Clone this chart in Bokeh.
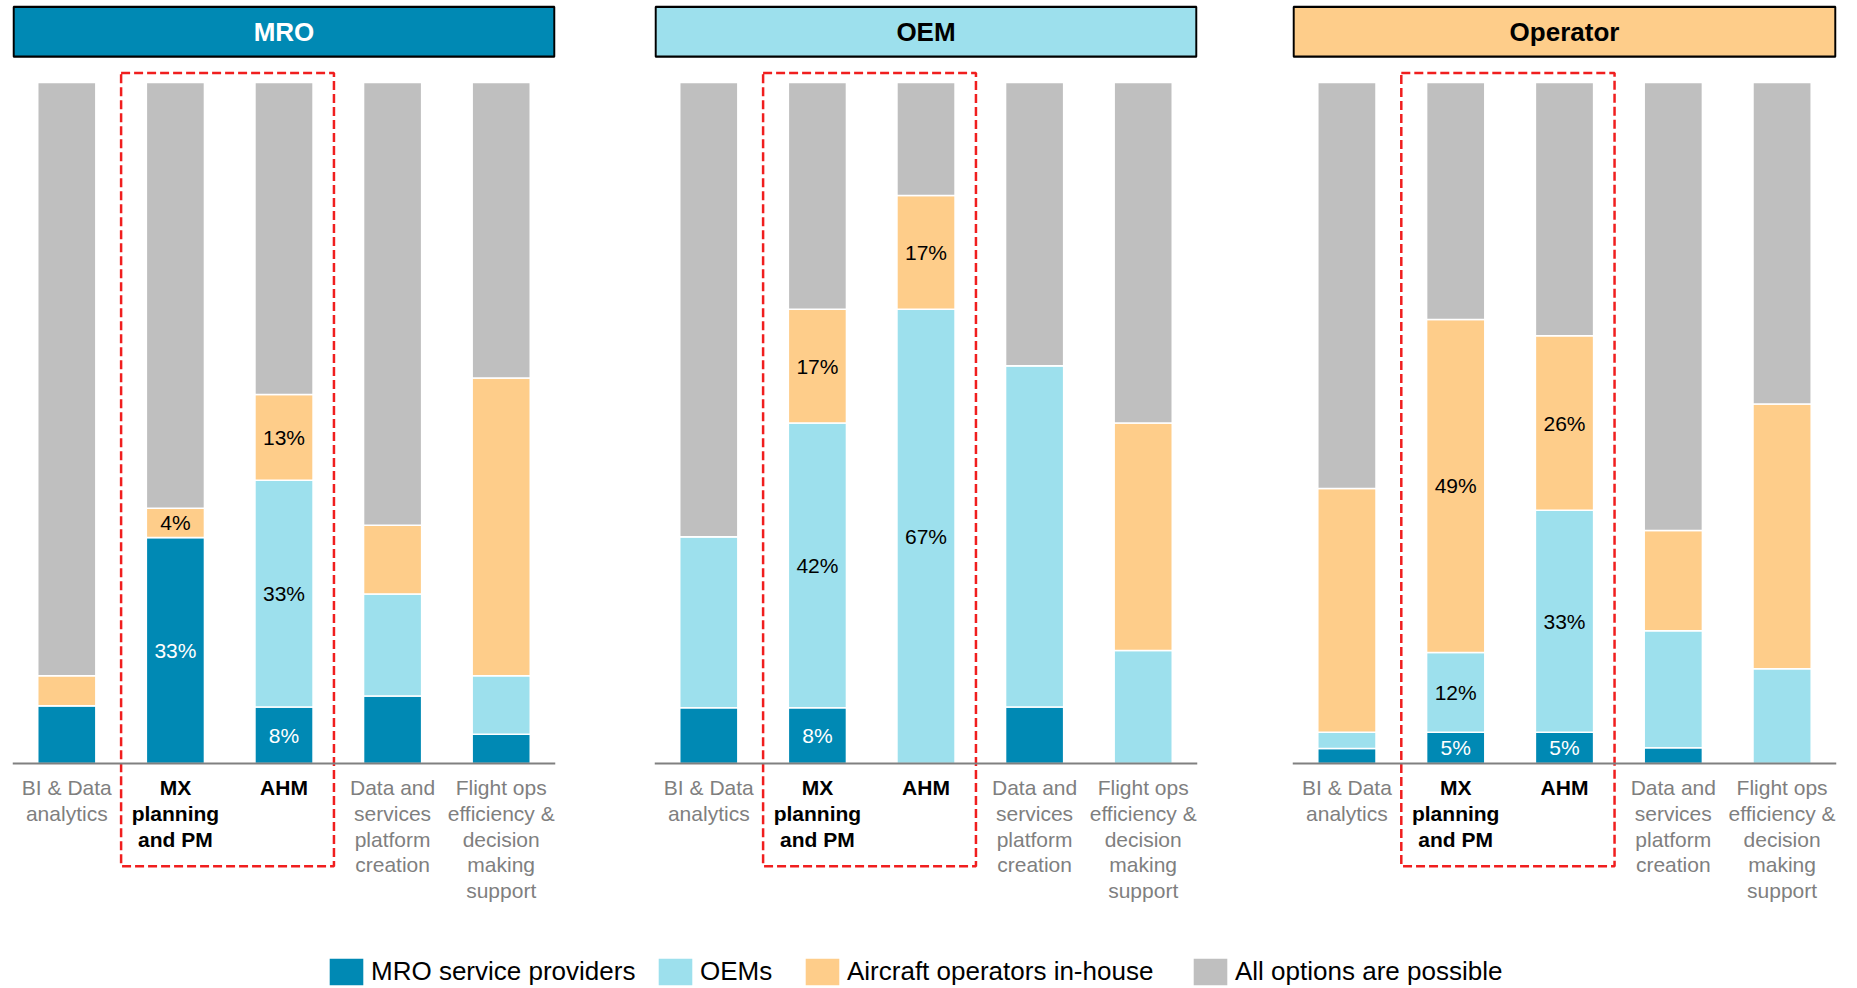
from bokeh.plotting import figure
from bokeh.models import ColumnDataSource, Span, Legend, LegendItem, Range1d, FactorRange
from bokeh.layouts import row, column
from bokeh.embed import file_html
from bokeh.resources import INLINE
from bokeh.core.properties import value

# ---------------- data ----------------
cat_keys = ["BI", "MX", "AHM", "DATA", "FLIGHT"]
cat_labels = ["BI & Data\nanalytics", "MX\nplanning\nand PM", "AHM",
              "Data and\nservices\nplatform\ncreation",
              "Flight ops\nefficiency &\ndecision\nmaking\nsupport"]
highlighted = ["MX", "AHM"]

series = ["MRO service providers", "OEMs", "Aircraft operators in-house", "All options are possible"]
series_colors = ["#0089B4", "#9DE0ED", "#FECD8A", "#BFBFBF"]

panels = ["MRO", "OEM", "Operator"]
panel_fill = ["#0089B4", "#9DE0ED", "#FECD8A"]
panel_text = ["white", "black", "black"]

# MRO panel (% of respondents)
mro_mro = [8.5, 33.2, 8.3, 9.9, 4.3]
mro_oem = [0.0, 0.0, 33.3, 15.0, 8.6]
mro_ops = [4.4, 4.3, 12.6, 10.1, 43.7]
mro_all = [87.1, 62.5, 45.8, 65.0, 43.4]

# OEM panel
oem_mro = [8.2, 8.2, 0.0, 8.3, 0.0]
oem_oem = [25.1, 41.8, 66.7, 50.1, 16.6]
oem_ops = [0.0, 16.7, 16.7, 0.0, 33.4]
oem_all = [66.7, 33.3, 16.6, 41.6, 50.0]

# Operator panel
op_mro = [2.2, 4.6, 4.6, 2.3, 0.0]
op_oem = [2.4, 11.7, 32.6, 17.2, 13.9]
op_ops = [35.8, 48.9, 25.6, 14.7, 38.9]
op_all = [59.6, 34.8, 37.2, 65.8, 47.2]

panel_values = [
    [mro_mro, mro_oem, mro_ops, mro_all],
    [oem_mro, oem_oem, oem_ops, oem_all],
    [op_mro, op_oem, op_ops, op_all],
]

# ---------------- layout constants ----------------
FONT = "Liberation Sans"
Y_MIN, Y_MAX = -24.52, 112.04
FRAME_H = 930
stack_keys = ["s0", "s1", "s2", "s3"]


def make_panel(idx, frame_w, left_b, right_b):
    name = panels[idx]
    vals = panel_values[idx]
    p = figure(x_range=FactorRange(*cat_keys, range_padding=0, factor_padding=0),
               y_range=Range1d(Y_MIN, Y_MAX),
               frame_width=frame_w, frame_height=FRAME_H,
               min_border_left=left_b, min_border_right=right_b,
               min_border_top=0, min_border_bottom=0,
               output_backend="svg", toolbar_location=None,
               x_axis_location=None, y_axis_location=None)
    p.outline_line_color = None
    p.xgrid.visible = False
    p.ygrid.visible = False

    data = {"cat": cat_keys}
    for k, v in zip(stack_keys, vals):
        data[k] = v
    src = ColumnDataSource(data)
    p.vbar_stack(stack_keys, x="cat", width=0.535, source=src,
                 fill_color=series_colors, line_color="white", line_width=1.5)

    # baseline axis line
    p.add_layout(Span(location=0, dimension="width", line_color="#808080", line_width=2))

    # header box
    p.quad(left=[0.01], right=[4.99], top=[111.1], bottom=[103.8],
           fill_color=panel_fill[idx], line_color="black", line_width=2.2)
    p.text(x=[2.5], y=[107.45], text=[name], text_align="center", text_baseline="middle",
           text_font=value(FONT), text_font_style="bold", text_font_size="26px",
           text_color=panel_text[idx])

    # dashed highlight box
    p.quad(left=[1.0], right=[2.96], top=[101.4], bottom=[-15.08],
           fill_color=None, line_color="#F01E1E", line_width=2.5, line_dash="9 4")

    # percentage labels on highlighted bars
    lx, ly, lt, lc = [], [], [], []
    for i, c in enumerate(cat_keys):
        if c not in highlighted:
            continue
        base = 0.0
        for s in range(3):
            v = vals[s][i]
            if v > 0:
                lx.append(c)
                ly.append(base + v / 2)
                lt.append(f"{round(v)}%")
                lc.append("white" if s == 0 else "black")
            base += v
    p.text(x=lx, y=ly, text=lt, text_color=lc, text_align="center", text_baseline="middle",
           text_font=value(FONT), text_font_size="21px")

    # category labels
    reg = [(c, l) for c, l in zip(cat_keys, cat_labels) if c not in highlighted]
    bold = [(c, l) for c, l in zip(cat_keys, cat_labels) if c in highlighted]
    p.text(x=[c for c, _ in reg], y=[-1.9] * len(reg), text=[l for _, l in reg],
           text_align="center", text_baseline="top", text_color="#7F7F7F",
           text_font=value(FONT), text_font_size="21px", text_line_height=1.11)
    p.text(x=[c for c, _ in bold], y=[-1.9] * len(bold), text=[l for _, l in bold],
           text_align="center", text_baseline="top", text_color="black",
           text_font=value(FONT), text_font_style="bold", text_font_size="21px",
           text_line_height=1.11)
    return p


p1 = make_panel(0, 543, 12, 45)
p2 = make_panel(1, 543, 54, 48)
p3 = make_panel(2, 544, 47, 21)

# legend strip
leg = figure(x_range=Range1d(0, 1), y_range=Range1d(0, 1),
             frame_width=1857, frame_height=58,
             min_border_left=0, min_border_right=0, min_border_top=0, min_border_bottom=0,
             output_backend="svg", toolbar_location=None,
             x_axis_location=None, y_axis_location=None)
leg.outline_line_color = None
leg.xgrid.visible = False
leg.ygrid.visible = False
legend_x = [325, 654, 801, 1189]
for s, c, lx in zip(series, series_colors, legend_x):
    # zero-height proxy glyph: only used to draw the legend swatch
    r = leg.vbar(x=[0.5], top=[0], bottom=[0], width=0.1, fill_color=c, line_color=None)
    lg = Legend(items=[LegendItem(label=s, renderers=[r])], orientation="horizontal",
                location=(lx, 0), glyph_width=42, glyph_height=33, label_standoff=4,
                padding=0, margin=0, border_line_color=None, background_fill_alpha=0,
                label_text_font=FONT, label_text_font_size="26px", label_text_color="black",
                label_text_baseline="middle")
    leg.add_layout(lg, "center")

layout = column(row(p1, p2, p3, spacing=0), leg, spacing=0)
open("out.html", "w").write(file_html(layout, INLINE))
